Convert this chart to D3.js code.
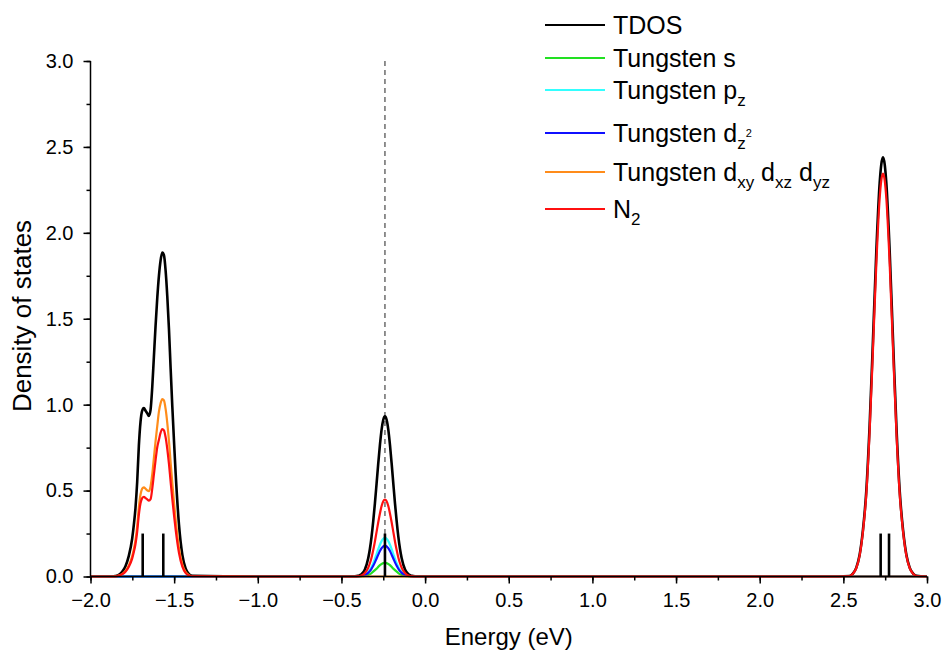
<!DOCTYPE html>
<html>
<head>
<meta charset="utf-8">
<script src="https://cdn.jsdelivr.net/npm/d3@7"></script>
<style>
  html, body { margin: 0; padding: 0; background: #fff; }
  svg { display: block; font-family: "Liberation Sans", Arial, sans-serif; }
</style>
</head>
<body>
<svg id="chart" width="947" height="659"></svg>
<script>
// ---------------- data ----------------
const energy = [-2.0,
  -1.871,-1.851,-1.831,-1.811,-1.791,-1.771,-1.751,
  -1.741,-1.731,-1.721,-1.711,-1.701,-1.691,-1.681,-1.671,-1.661,-1.651,-1.641,-1.631,-1.621,-1.611,-1.601,-1.591,-1.581,-1.571,-1.561,-1.551,-1.541,-1.531,-1.521,-1.511,-1.501,-1.491,
  -1.471,-1.451,-1.431,-1.411,-1.391,
  -1.0,
  -0.42,-0.40,-0.38,-0.36,-0.34,-0.33,-0.32,-0.31,-0.30,-0.29,-0.28,-0.27,-0.26,-0.25,-0.24,-0.23,-0.22,-0.21,-0.20,-0.19,-0.18,-0.17,-0.16,-0.15,-0.14,-0.12,-0.10,-0.08,-0.06,
  0.5, 2.4,
  2.537,2.557,2.577,2.597,2.617,2.637,2.657,2.677,2.697,2.717,2.727,2.737,2.747,2.757,2.777,2.797,2.817,2.837,2.857,2.877,2.897,2.917,2.937,
  3.0];

const tdos = [0,
  0,0.003,0.01,0.027,0.06,0.12,0.22,
  0.30,0.40,0.55,0.76,0.90,0.965,0.98,0.965,0.95,0.935,0.97,1.10,1.28,1.46,1.62,1.75,1.84,1.885,1.87,1.78,1.63,1.44,1.21,0.99,0.79,0.60,
  0.30,0.125,0.045,0.014,0.004,
  0,
  0.001,0.004,0.013,0.041,0.106,0.160,0.232,0.322,0.426,0.541,0.658,0.766,0.855,0.912,0.932,0.912,0.855,0.766,0.658,0.541,0.426,0.322,0.232,0.160,0.106,0.041,0.013,0.004,0.001,
  0, 0,
  0.003,0.017,0.05,0.125,0.27,0.495,0.878,1.374,1.891,2.289,2.40,2.44,2.40,2.289,1.891,1.374,0.878,0.495,0.27,0.125,0.05,0.017,0.004,
  0];

const tungstenS = [0,
  0,0,0,0,0,0,0,
  0,0,0,0,0,0,0,0,0,0,0,0,0,0,0,0,0,0,0,0,0,0,0,0,0,0,
  0,0,0,0,0,
  0,
  0,0,0.001,0.003,0.009,0.014,0.02,0.028,0.037,0.046,0.056,0.066,0.073,0.078,0.08,0.078,0.073,0.066,0.056,0.046,0.037,0.028,0.02,0.014,0.009,0.003,0.001,0,0,
  0, 0,
  0,0,0,0,0,0,0,0,0,0,0,0,0,0,0,0,0,0,0,0,0,0,0,
  0];

const tungstenPz = [0,
  0,0,0,0,0,0,0,
  0,0,0,0,0,0,0,0,0,0,0,0,0,0,0,0,0,0,0,0,0,0,0,0,0,0,
  0,0,0,0,0,
  0,
  0,0.001,0.003,0.01,0.026,0.039,0.056,0.078,0.103,0.131,0.159,0.185,0.206,0.22,0.225,0.22,0.206,0.185,0.159,0.131,0.103,0.078,0.056,0.039,0.026,0.01,0.003,0.001,0,
  0, 0,
  0,0,0,0,0,0,0,0,0,0,0,0,0,0,0,0,0,0,0,0,0,0,0,
  0];

const tungstenDz2 = [0,
  0,0,0,0,0,0,0,
  0,0,0,0,0,0,0,0,0,0,0,0,0,0,0,0,0,0,0,0,0,0,0,0,0,0,
  0,0,0,0,0,
  0,
  0,0.001,0.003,0.008,0.021,0.031,0.045,0.062,0.082,0.105,0.127,0.148,0.165,0.176,0.18,0.176,0.165,0.148,0.127,0.105,0.082,0.062,0.045,0.031,0.021,0.008,0.003,0.001,0,
  0, 0,
  0,0,0,0,0,0,0,0,0,0,0,0,0,0,0,0,0,0,0,0,0,0,0,
  0];

const tungstenDxy = [0,
  0,0.002,0.005,0.014,0.032,0.064,0.117,
  0.159,0.212,0.292,0.403,0.477,0.511,0.519,0.511,0.501,0.496,0.524,0.594,0.691,0.788,0.875,0.959,1.008,1.033,1.025,0.975,0.893,0.789,0.663,0.543,0.433,0.329,
  0.164,0.069,0.025,0.008,0.002,
  0,
  0,0,0,0,0,0,0,0,0,0,0,0,0,0,0,0,0,0,0,0,0,0,0,0,0,0,0,0,0,
  0, 0,
  0,0,0,0,0,0,0,0,0,0,0,0,0,0,0,0,0,0,0,0,0,0,0,
  0];

const nitrogen2 = [0,
  0,0.001,0.005,0.013,0.028,0.057,0.104,
  0.142,0.189,0.26,0.359,0.426,0.456,0.464,0.456,0.449,0.442,0.45,0.51,0.594,0.677,0.752,0.796,0.837,0.858,0.851,0.81,0.742,0.655,0.551,0.45,0.359,0.273,
  0.137,0.057,0.02,0.006,0.002,
  0,
  0,0.002,0.006,0.02,0.051,0.077,0.111,0.154,0.204,0.26,0.316,0.367,0.41,0.438,0.447,0.438,0.41,0.367,0.316,0.26,0.204,0.154,0.111,0.077,0.051,0.02,0.006,0.002,0,
  0, 0,
  0.003,0.016,0.048,0.12,0.26,0.476,0.844,1.32,1.817,2.2,2.307,2.345,2.307,2.2,1.817,1.32,0.844,0.476,0.26,0.12,0.048,0.016,0.003,
  0];

const stickEnergies = [-1.688, -1.565, -0.24, 2.723, 2.773];
const stickHeight = 0.25;
const homoEnergy = -0.24;

const xTickValues = [-2.0, -1.5, -1.0, -0.5, 0.0, 0.5, 1.0, 1.5, 2.0, 2.5, 3.0];
const yTickValues = [0.0, 0.5, 1.0, 1.5, 2.0, 2.5, 3.0];

const seriesNames = ["TDOS", "Tungsten s", "Tungsten pz", "Tungsten dz2", "Tungsten dxy dxz dyz", "N2"];
const seriesValues = [tdos, tungstenS, tungstenPz, tungstenDz2, tungstenDxy, nitrogen2];
const seriesColors = ["#000000", "#22e022", "#33ffff", "#1010ff", "#ff8c1a", "#ff1010"];

// ---------------- chart ----------------
const svg = d3.select("#chart");
const x = d3.scaleLinear().domain([-2, 3]).range([90.5, 927]);
const y = d3.scaleLinear().domain([0, 3]).range([576.5, 61]);

// dashed reference line
svg.append("line")
  .attr("x1", x(homoEnergy)).attr("x2", x(homoEnergy))
  .attr("y1", y(3)).attr("y2", y(0))
  .attr("stroke", "#555").attr("stroke-width", 1.3)
  .attr("stroke-dasharray", "5,4");

const line = d3.line().x(d => x(d[0])).y(d => y(d[1])).curve(d3.curveMonotoneX);

seriesValues.forEach((vals, i) => {
  const pts = energy.map((e, k) => [e, vals[k]]);
  svg.append("path")
    .datum(pts)
    .attr("d", line)
    .attr("fill", "none")
    .attr("stroke", seriesColors[i])
    .attr("stroke-width", i === 0 ? 2.6 : 2.2)
    .attr("stroke-linejoin", "round");
});

// sticks
svg.append("g").selectAll("line").data(stickEnergies).join("line")
  .attr("x1", d => x(d)).attr("x2", d => x(d))
  .attr("y1", y(0)).attr("y2", y(stickHeight))
  .attr("stroke", "#000").attr("stroke-width", 2.6);

// axes
const fmt = d3.format(".1f");
const xMinor = d3.range(-2, 3.001, 0.25);
const yMinor = d3.range(0, 3.001, 0.25);

const xAxis = svg.append("g").attr("transform", `translate(0,${y(0)})`);
xAxis.call(d3.axisBottom(x).tickValues(xMinor).tickSize(4).tickFormat(""));
xAxis.call(g => g.select(".domain").remove());
const xAxisMajor = svg.append("g").attr("transform", `translate(0,${y(0)})`)
  .call(d3.axisBottom(x).tickValues(xTickValues).tickSize(7).tickPadding(9).tickFormat(fmt));

const yAxis = svg.append("g").attr("transform", `translate(${x(-2)},0)`);
yAxis.call(d3.axisLeft(y).tickValues(yMinor).tickSize(4).tickFormat(""));
yAxis.call(g => g.select(".domain").remove());
const yAxisMajor = svg.append("g").attr("transform", `translate(${x(-2)},0)`)
  .call(d3.axisLeft(y).tickValues(yTickValues).tickSize(7).tickPadding(10).tickFormat(fmt));

[xAxis, xAxisMajor, yAxis, yAxisMajor].forEach(g => {
  g.selectAll("line").attr("stroke", "#000").attr("stroke-width", 1.5);
  g.selectAll(".domain").attr("stroke", "#000").attr("stroke-width", 1.5);
});
xAxisMajor.select(".domain").attr("d", `M${x(-2)},0H${x(3)}`);
yAxisMajor.select(".domain").attr("d", `M0,${y(0)}V${y(3)}`);
xAxisMajor.selectAll("text").attr("font-size", 20).attr("fill", "#000")
  .attr("font-family", "'Liberation Sans', Arial, sans-serif");
yAxisMajor.selectAll("text").attr("font-size", 20).attr("fill", "#000")
  .attr("font-family", "'Liberation Sans', Arial, sans-serif");

// axis titles
svg.append("text")
  .attr("x", (x(-2) + x(3)) / 2).attr("y", 645)
  .attr("text-anchor", "middle").attr("font-size", 24).text("Energy (eV)");
svg.append("text")
  .attr("transform", `translate(31,316) rotate(-90)`)
  .attr("text-anchor", "middle").attr("font-size", 26).text("Density of states");

// legend
const legendRows = [25, 58, 90, 133, 172, 209];
const legend = svg.append("g");
const subSize = 17;
function addLabel(t, parts) {
  parts.forEach(p => {
    const ts = t.append("tspan").text(p.s);
    if (p.sub) ts.attr("font-size", subSize).attr("dy", 7);
    else if (p.sup) ts.attr("font-size", 11).attr("dy", -12);
    else if (p.back) ts.attr("dy", p.back);
  });
}
const labelParts = [
  [{s: "TDOS"}],
  [{s: "Tungsten s"}],
  [{s: "Tungsten p"}, {s: "z", sub: true}],
  [{s: "Tungsten d"}, {s: "z", sub: true}, {s: "2", sup: true}],
  [{s: "Tungsten d"}, {s: "xy", sub: true}, {s: " d", back: -7}, {s: "xz", sub: true}, {s: " d", back: -7}, {s: "yz", sub: true}],
  [{s: "N"}, {s: "2", sub: true}]
];
seriesNames.forEach((name, i) => {
  const yy = legendRows[i];
  legend.append("line")
    .attr("x1", 545).attr("x2", 605).attr("y1", yy).attr("y2", yy)
    .attr("stroke", seriesColors[i]).attr("stroke-width", 2);
  const t = legend.append("text")
    .attr("x", 613).attr("y", yy + 9).attr("font-size", 25).attr("fill", "#000");
  addLabel(t, labelParts[i]);
});
</script>
</body>
</html>
